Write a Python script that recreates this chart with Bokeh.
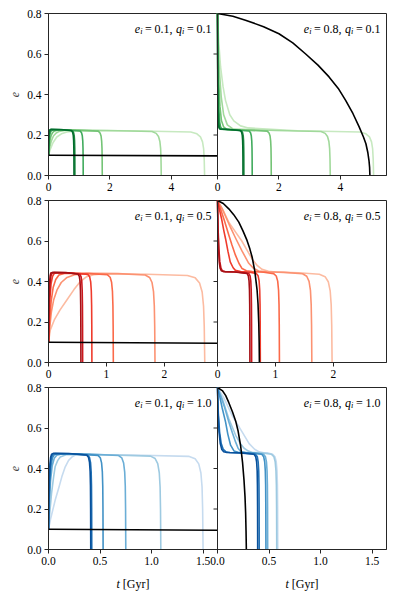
from bokeh.plotting import figure
from bokeh.models import Range1d, FixedTicker, Span, Label
from bokeh.layouts import column
from bokeh.embed import file_html
from bokeh.resources import INLINE

# ---------------- data ----------------
y_ticks = [0.0, 0.2, 0.4, 0.6, 0.8]
y_tick_labels = ["0.0", "0.2", "0.4", "0.6", "0.8"]

row_xmax = [5.5, 2.92, 1.64]
row_xticks = [[0, 2, 4], [0, 1, 2], [0.0, 0.5, 1.0, 1.5]]
row_xtick_labels = [["0", "2", "4"], ["0", "1", "2"], ["0.0", "0.5", "1.0", "1.5"]]

e_init = ["0.1", "0.8"]
q_init = ["0.1", "0.5", "1.0"]

greens = ["#006d2c", "#238b45", "#41ab5d", "#74c476", "#a1d99b", "#c7e9c0"]
reds = ["#a50f15", "#cb181d", "#ef3b2c", "#fb6a4a", "#fc9272", "#fcbba1"]
blues = ["#08519c", "#2171b5", "#4292c6", "#6baed6", "#9ecae1", "#c6dbef"]

# ---- row 1 (q_i = 0.1), left panel e_i = 0.1 (curves dark -> light)
p11_black_t = [0.0, 5.5]
p11_black_e = [0.1, 0.097]
p11_t = [
    [0, 0.004, 0.01, 0.018, 0.028, 0.04, 0.07, 0.4, 0.75, 0.786, 0.806, 0.818, 0.824, 0.8276, 0.83],
    [0, 0.006, 0.015, 0.027, 0.042, 0.06, 0.1, 0.42, 0.78, 0.816, 0.836, 0.848, 0.854, 0.8576, 0.86],
    [0, 0.01, 0.025, 0.045, 0.07, 0.1, 0.16, 0.55, 1.03, 1.075, 1.1, 1.115, 1.123, 1.127, 1.13],
    [0, 0.02, 0.05, 0.09, 0.14, 0.2, 0.32, 0.9, 1.62, 1.678, 1.711, 1.73, 1.741, 1.746, 1.75],
    [0, 0.035, 0.09, 0.16, 0.25, 0.35, 0.56, 1.9, 3.37, 3.505, 3.58, 3.625, 3.649, 3.661, 3.67],
    [0, 0.06, 0.15, 0.27, 0.42, 0.6, 0.96, 2.6, 4.63, 4.83, 4.945, 5.013, 5.049, 5.067, 5.08],
]
p11_e = [
    [0.1, 0.144, 0.181, 0.206, 0.219, 0.225, 0.228, 0.227, 0.222, 0.213, 0.198, 0.173, 0.138, 0.088, 0.0],
    [0.1, 0.143, 0.18, 0.205, 0.218, 0.224, 0.227, 0.226, 0.221, 0.212, 0.197, 0.172, 0.137, 0.087, 0.0],
    [0.1, 0.14, 0.178, 0.203, 0.216, 0.222, 0.226, 0.225, 0.22, 0.211, 0.196, 0.171, 0.136, 0.086, 0.0],
    [0.1, 0.138, 0.175, 0.2, 0.213, 0.22, 0.225, 0.224, 0.219, 0.21, 0.195, 0.17, 0.135, 0.085, 0.0],
    [0.1, 0.135, 0.17, 0.195, 0.21, 0.218, 0.224, 0.222, 0.217, 0.208, 0.193, 0.168, 0.133, 0.083, 0.0],
    [0.1, 0.13, 0.163, 0.19, 0.206, 0.215, 0.222, 0.221, 0.215, 0.206, 0.191, 0.166, 0.131, 0.081, 0.0],
]
# ---- row 1, right panel e_i = 0.8
p12_black_t = [0, 0.5, 0.91, 1.5, 2.0, 2.45, 2.87, 3.27, 3.63, 3.93, 4.17, 4.41, 4.61, 4.75, 4.83,
               4.89, 4.93, 4.95, 4.96]
p12_black_e = [0.8, 0.786, 0.767, 0.735, 0.70, 0.655, 0.60, 0.545, 0.487, 0.43, 0.371, 0.305, 0.24,
               0.19, 0.157, 0.115, 0.074, 0.04, 0.0]
p12_t = [
    [0, 0.004, 0.01, 0.018, 0.03, 0.045, 0.07, 0.4, 0.75, 0.786, 0.806, 0.818, 0.824, 0.8276, 0.83],
    [0, 0.006, 0.015, 0.027, 0.045, 0.065, 0.1, 0.42, 0.78, 0.816, 0.836, 0.848, 0.854, 0.8576, 0.86],
    [0, 0.01, 0.025, 0.045, 0.07, 0.1, 0.15, 0.55, 1.03, 1.075, 1.1, 1.115, 1.123, 1.127, 1.13],
    [0, 0.015, 0.04, 0.08, 0.13, 0.2, 0.3, 0.9, 1.62, 1.678, 1.711, 1.73, 1.741, 1.746, 1.75],
    [0, 0.02, 0.06, 0.12, 0.2, 0.32, 0.5, 1.9, 3.37, 3.505, 3.58, 3.625, 3.649, 3.661, 3.67],
    [0, 0.04, 0.1, 0.18, 0.26, 0.4, 0.53, 0.75, 1.0, 2.6, 4.63, 4.83, 4.945, 5.013, 5.049, 5.067, 5.08],
]
p12_e = [
    [0.8, 0.571, 0.411, 0.308, 0.257, 0.237, 0.23, 0.227, 0.222, 0.213, 0.198, 0.173, 0.138, 0.088, 0.0],
    [0.8, 0.575, 0.415, 0.31, 0.258, 0.237, 0.229, 0.226, 0.221, 0.212, 0.197, 0.172, 0.137, 0.087, 0.0],
    [0.8, 0.6, 0.44, 0.33, 0.265, 0.24, 0.229, 0.225, 0.22, 0.211, 0.196, 0.171, 0.136, 0.086, 0.0],
    [0.8, 0.63, 0.47, 0.34, 0.27, 0.24, 0.228, 0.224, 0.219, 0.21, 0.195, 0.17, 0.135, 0.085, 0.0],
    [0.8, 0.66, 0.52, 0.39, 0.3, 0.25, 0.23, 0.222, 0.217, 0.208, 0.193, 0.168, 0.133, 0.083, 0.0],
    [0.8, 0.66, 0.536, 0.44, 0.371, 0.3, 0.27, 0.245, 0.235, 0.221, 0.215, 0.206, 0.191, 0.166, 0.131, 0.081, 0.0],
]
# ---- row 2 (q_i = 0.5), left panel
p21_black_t = [0.0, 2.92]
p21_black_e = [0.1, 0.095]
p21_t = [
    [0, 0.004, 0.01, 0.018, 0.028, 0.04, 0.07, 0.3, 0.51, 0.5325, 0.545, 0.5525, 0.5565, 0.5585, 0.56],
    [0, 0.006, 0.015, 0.027, 0.042, 0.06, 0.1, 0.32, 0.54, 0.5625, 0.575, 0.5825, 0.5865, 0.5885, 0.59],
    [0, 0.01, 0.025, 0.045, 0.07, 0.1, 0.16, 0.42, 0.68, 0.7115, 0.729, 0.7395, 0.7451, 0.7479, 0.75],
    [0, 0.02, 0.045, 0.08, 0.125, 0.18, 0.29, 0.65, 1.02, 1.065, 1.09, 1.105, 1.113, 1.117, 1.12],
    [0, 0.02, 0.05, 0.09, 0.15, 0.22, 0.32, 0.45, 0.7, 1.2, 1.67, 1.7465, 1.789, 1.8145, 1.8281, 1.8349, 1.84],
    [0, 0.03, 0.1, 0.2, 0.32, 0.44, 0.55, 0.66, 0.78, 1.0, 1.7, 2.4, 2.535, 2.61, 2.655, 2.679, 2.691, 2.70],
]
p21_e = [
    [0.1, 0.221, 0.324, 0.393, 0.428, 0.442, 0.445, 0.444, 0.437, 0.425, 0.4, 0.355, 0.285, 0.185, 0.0],
    [0.1, 0.22, 0.323, 0.392, 0.427, 0.441, 0.444, 0.443, 0.436, 0.424, 0.399, 0.354, 0.284, 0.184, 0.0],
    [0.1, 0.22, 0.32, 0.39, 0.425, 0.44, 0.443, 0.442, 0.435, 0.423, 0.398, 0.353, 0.283, 0.183, 0.0],
    [0.1, 0.2, 0.3, 0.37, 0.41, 0.432, 0.441, 0.44, 0.433, 0.421, 0.396, 0.351, 0.281, 0.181, 0.0],
    [0.1, 0.17, 0.25, 0.31, 0.36, 0.395, 0.42, 0.433, 0.44, 0.439, 0.432, 0.42, 0.395, 0.35, 0.28, 0.18, 0.0],
    [0.1, 0.16, 0.21, 0.26, 0.31, 0.36, 0.40, 0.424, 0.434, 0.438, 0.436, 0.43, 0.418, 0.393, 0.348, 0.278, 0.178, 0.0],
]
# ---- row 2, right panel
p22_black_t = [0, 0.1, 0.195, 0.28, 0.368, 0.44, 0.51, 0.56, 0.598, 0.644, 0.684, 0.70, 0.713, 0.72, 0.724]
p22_black_e = [0.8, 0.785, 0.759, 0.73, 0.693, 0.65, 0.603, 0.56, 0.521, 0.452, 0.357, 0.29, 0.193, 0.1, 0.0]
p22_t = [
    [0, 0.008, 0.018, 0.03, 0.045, 0.065, 0.1, 0.3, 0.51, 0.5325, 0.545, 0.5525, 0.5565, 0.5585, 0.56],
    [0, 0.01, 0.024, 0.04, 0.06, 0.085, 0.13, 0.33, 0.54, 0.5625, 0.575, 0.5825, 0.5865, 0.5885, 0.59],
    [0, 0.03, 0.07, 0.11, 0.14, 0.18, 0.22, 0.27, 0.31, 0.4, 0.53, 0.67, 0.7015, 0.719, 0.7295, 0.7351, 0.7379, 0.74],
    [0, 0.05, 0.12, 0.195, 0.25, 0.31, 0.37, 0.425, 0.5, 0.6, 0.8, 0.97, 1.015, 1.04, 1.055, 1.063, 1.067, 1.07],
    [0, 0.08, 0.15, 0.22, 0.32, 0.425, 0.54, 0.62, 0.71, 0.85, 1.15, 1.47, 1.542, 1.582, 1.606, 1.6188, 1.6252, 1.63],
    [0, 0.1, 0.2, 0.31, 0.42, 0.51, 0.6, 0.69, 0.77, 0.88, 1.0, 1.4, 1.76, 1.859, 1.914, 1.947, 1.9646, 1.9734, 1.98],
]
p22_e = [
    [0.8, 0.659, 0.561, 0.497, 0.466, 0.453, 0.449, 0.447, 0.44, 0.428, 0.403, 0.358, 0.288, 0.188, 0.0],
    [0.8, 0.66, 0.562, 0.498, 0.466, 0.453, 0.449, 0.447, 0.44, 0.428, 0.403, 0.358, 0.288, 0.188, 0.0],
    [0.8, 0.76, 0.71, 0.65, 0.61, 0.55, 0.497, 0.468, 0.455, 0.449, 0.447, 0.44, 0.428, 0.403, 0.358, 0.288, 0.188, 0.0],
    [0.8, 0.76, 0.7, 0.63, 0.58, 0.53, 0.49, 0.464, 0.453, 0.449, 0.446, 0.439, 0.427, 0.402, 0.357, 0.287, 0.187, 0.0],
    [0.8, 0.76, 0.715, 0.67, 0.61, 0.55, 0.49, 0.466, 0.452, 0.448, 0.445, 0.438, 0.426, 0.401, 0.356, 0.286, 0.186, 0.0],
    [0.8, 0.75, 0.69, 0.645, 0.6, 0.555, 0.51, 0.478, 0.46, 0.451, 0.447, 0.443, 0.436, 0.424, 0.399, 0.354, 0.284, 0.184, 0.0],
]
# ---- row 3 (q_i = 1.0), left panel
p31_black_t = [0.0, 1.64]
p31_black_e = [0.1, 0.095]
p31_t = [
    [0, 0.003, 0.0075, 0.0135, 0.021, 0.03, 0.05, 0.2, 0.37, 0.388, 0.398, 0.404, 0.4072, 0.4088, 0.41],
    [0, 0.004, 0.01, 0.018, 0.028, 0.04, 0.065, 0.22, 0.38, 0.398, 0.408, 0.414, 0.4172, 0.4188, 0.42],
    [0, 0.0055, 0.014, 0.025, 0.038, 0.055, 0.09, 0.28, 0.48, 0.5025, 0.515, 0.5225, 0.5265, 0.5285, 0.53],
    [0, 0.008, 0.02, 0.036, 0.056, 0.08, 0.13, 0.4, 0.68, 0.7115, 0.729, 0.7395, 0.7451, 0.7479, 0.75],
    [0, 0.012, 0.03, 0.05, 0.065, 0.09, 0.114, 0.17, 0.55, 0.99, 1.035, 1.06, 1.075, 1.083, 1.087, 1.09],
    [0, 0.02, 0.065, 0.1, 0.13, 0.16, 0.195, 0.23, 0.26, 0.35, 0.8, 1.36, 1.423, 1.458, 1.479, 1.4902, 1.4958, 1.5],
]
p31_e = [
    [0.1, 0.231, 0.344, 0.419, 0.456, 0.471, 0.475, 0.474, 0.467, 0.455, 0.43, 0.385, 0.315, 0.205, 0.0],
    [0.1, 0.23, 0.343, 0.418, 0.455, 0.47, 0.474, 0.473, 0.466, 0.454, 0.429, 0.384, 0.314, 0.204, 0.0],
    [0.1, 0.23, 0.342, 0.416, 0.453, 0.468, 0.473, 0.472, 0.465, 0.453, 0.428, 0.383, 0.313, 0.203, 0.0],
    [0.1, 0.228, 0.34, 0.414, 0.451, 0.466, 0.472, 0.471, 0.464, 0.452, 0.427, 0.382, 0.312, 0.202, 0.0],
    [0.1, 0.18, 0.28, 0.36, 0.41, 0.44, 0.457, 0.468, 0.468, 0.461, 0.449, 0.424, 0.379, 0.309, 0.199, 0.0],
    [0.1, 0.15, 0.244, 0.305, 0.36, 0.405, 0.44, 0.458, 0.466, 0.469, 0.467, 0.46, 0.448, 0.423, 0.378, 0.308, 0.198, 0.0],
]
# ---- row 3, right panel
p32_black_t = [0, 0.05, 0.08, 0.11, 0.145, 0.176, 0.2, 0.225, 0.243, 0.257, 0.267, 0.273, 0.277, 0.28]
p32_black_e = [0.8, 0.783, 0.76, 0.725, 0.68, 0.635, 0.585, 0.51, 0.43, 0.344, 0.26, 0.18, 0.09, 0.0]
p32_t = [
    [0, 0.006, 0.015, 0.027, 0.042, 0.06, 0.09, 0.22, 0.355, 0.371, 0.3795, 0.385, 0.3875, 0.389, 0.39],
    [0, 0.008, 0.02, 0.036, 0.056, 0.08, 0.12, 0.25, 0.37, 0.386, 0.3945, 0.4, 0.4025, 0.404, 0.405],
    [0, 0.02, 0.045, 0.078, 0.1, 0.127, 0.16, 0.2, 0.32, 0.43, 0.448, 0.458, 0.464, 0.4672, 0.4688, 0.47],
    [0, 0.03, 0.07, 0.11, 0.145, 0.176, 0.2, 0.225, 0.27, 0.36, 0.447, 0.465, 0.475, 0.481, 0.4842, 0.4858, 0.487],
    [0, 0.05, 0.11, 0.176, 0.22, 0.258, 0.3, 0.34, 0.43, 0.525, 0.5475, 0.56, 0.5675, 0.5715, 0.5735, 0.575],
    [0, 0.06, 0.144, 0.24, 0.307, 0.36, 0.405, 0.45, 0.49, 0.535, 0.5575, 0.57, 0.5775, 0.5815, 0.5835, 0.585],
]
p32_e = [
    [0.8, 0.671, 0.581, 0.523, 0.494, 0.483, 0.479, 0.477, 0.47, 0.458, 0.433, 0.388, 0.318, 0.208, 0.0],
    [0.8, 0.671, 0.581, 0.523, 0.494, 0.483, 0.479, 0.477, 0.47, 0.458, 0.433, 0.388, 0.318, 0.208, 0.0],
    [0.8, 0.76, 0.7, 0.63, 0.57, 0.515, 0.487, 0.48, 0.477, 0.47, 0.458, 0.433, 0.388, 0.318, 0.208, 0.0],
    [0.8, 0.76, 0.7, 0.63, 0.575, 0.53, 0.5, 0.484, 0.479, 0.477, 0.47, 0.458, 0.433, 0.388, 0.318, 0.208, 0.0],
    [0.8, 0.74, 0.646, 0.564, 0.525, 0.5, 0.486, 0.479, 0.477, 0.47, 0.458, 0.433, 0.388, 0.318, 0.208, 0.0],
    [0.8, 0.75, 0.66, 0.58, 0.523, 0.495, 0.482, 0.478, 0.477, 0.47, 0.458, 0.433, 0.388, 0.318, 0.208, 0.0],
]

rows = [
    (greens, (p11_t, p11_e, p11_black_t, p11_black_e), (p12_t, p12_e, p12_black_t, p12_black_e)),
    (reds, (p21_t, p21_e, p21_black_t, p21_black_e), (p22_t, p22_e, p22_black_t, p22_black_e)),
    (blues, (p31_t, p31_e, p31_black_t, p31_black_e), (p32_t, p32_e, p32_black_t, p32_black_e)),
]

# ---------------- style / layout ----------------
FRAME_W, FRAME_H = 338, 162
SERIF = "Liberation Serif"
TICK_FS = "11.5px"
EDGE = "#262626"
LW = 1.6
YMAX = 0.8
LEFT_B, RIGHT_B = 48, 6

TIMES_W = {"0": 0.5, "1": 0.5, "5": 0.5, "8": 0.5, ".": 0.25, ",": 0.25,
           "=": 0.564, "e": 0.444, "q": 0.5, "i": 0.278, "t": 0.278}


def text_w(s, size):
    return sum(TIMES_W.get(ch, 0.5) for ch in s) * size


def px_to_y(px_below_top):
    return YMAX - px_below_top * YMAX / FRAME_H


def annotate(p, x_anchor, e_txt, q_txt):
    F = 12.0
    S = 8.4
    items = [("e", "italic", F, 0.0, 0.0),
             ("i", "italic", S, 3.0, 0.22 * F),
             ("=", "normal", F, 0.0, 0.22 * F),
             (e_txt + ",", "normal", F, 0.0, 0.3 * F),
             ("q", "italic", F, 0.0, 0.0),
             ("i", "italic", S, 3.0, 0.22 * F),
             ("=", "normal", F, 0.0, 0.22 * F),
             (q_txt, "normal", F, 0.0, 0.0)]
    total = sum(text_w(t, s) + g for t, _, s, _, g in items)
    x = -6.0 - total
    for t, st, s, dy, g in items:
        p.add_layout(Label(x=x_anchor, y=px_to_y(15 + dy), x_offset=x, text=t,
                           text_font=SERIF, text_font_style=st,
                           text_font_size=f"{s}px", text_align="left",
                           text_baseline="alphabetic", text_color="black"))
        x += text_w(t, s) + g


figs = []
for r, (cols, left, right) in enumerate(rows):
    L = row_xmax[r]
    p = figure(frame_width=FRAME_W, frame_height=FRAME_H,
               min_border_left=LEFT_B, min_border_right=RIGHT_B,
               min_border_top=13 if r == 0 else 5,
               min_border_bottom=22 if r == 2 else 20,
               x_range=Range1d(0, 2 * L), y_range=Range1d(0, YMAX),
               output_backend="svg", toolbar_location=None)
    p.extra_x_ranges = {"right": Range1d(-L, L)}
    p.grid.visible = False
    p.outline_line_color = EDGE
    p.outline_line_width = 1
    p.background_fill_color = "white"
    p.border_fill_color = "white"

    xt = [float(t) for t in row_xticks[r]] + [L + t for t in row_xticks[r]]
    xl = row_xtick_labels[r] + row_xtick_labels[r]
    xa = p.xaxis[0]
    xa.ticker = FixedTicker(ticks=xt)
    xa.major_label_overrides = {t: s for t, s in zip(xt, xl)}
    ya = p.yaxis[0]
    ya.ticker = FixedTicker(ticks=y_ticks)
    ya.major_label_overrides = {t: s for t, s in zip(y_ticks, y_tick_labels)}
    ya.axis_label = "e"
    ya.axis_label_text_font = SERIF
    ya.axis_label_text_font_style = "italic"
    ya.axis_label_text_font_size = "12px"
    ya.axis_label_standoff = 5
    for ax in (xa, ya):
        ax.major_tick_out = 4
        ax.major_tick_in = 0
        ax.minor_tick_out = 0
        ax.minor_tick_in = 0
        ax.major_label_standoff = 3
        ax.axis_line_color = EDGE
        ax.major_tick_line_color = EDGE
        ax.major_label_text_font = SERIF
        ax.major_label_text_font_size = TICK_FS
        ax.major_label_text_color = "black"

    # divider between the two panels and the right panel's y ticks
    p.add_layout(Span(location=L, dimension="height", line_color=EDGE, line_width=1))
    tick_len = 4 * (2 * L) / FRAME_W
    p.segment(x0=[L] * len(y_ticks), y0=y_ticks, x1=[L - tick_len] * len(y_ticks),
              y1=y_ticks, line_color=EDGE, line_width=1)

    # curves: light first, dark on top, black last
    for (ts, es, bt, be), rng in ((left, "default"), (right, "right")):
        for i in reversed(range(len(ts))):
            p.line(ts[i], es[i], line_color=cols[i], line_width=LW,
                   line_join="round", x_range_name=rng)
        p.line(bt, be, line_color="black", line_width=LW, line_join="round",
               x_range_name=rng)

    annotate(p, L, e_init[0], q_init[r])
    annotate(p, 2 * L, e_init[1], q_init[r])
    figs.append(p)

# x-axis titles under the bottom row
L3 = row_xmax[2]
xlab = figure(frame_width=FRAME_W, frame_height=22, min_border_left=LEFT_B,
              min_border_right=RIGHT_B, min_border_top=0, min_border_bottom=0,
              x_range=Range1d(0, 2 * L3), y_range=Range1d(0, 22),
              x_axis_location=None, y_axis_location=None,
              output_backend="svg", toolbar_location=None)
xlab.grid.visible = False
xlab.outline_line_color = None
xlab.background_fill_color = "white"
xlab.border_fill_color = "white"
for xc in (0.5 * L3, 1.5 * L3):
    xlab.add_layout(Label(x=xc, y=10, x_offset=-16.5, text="t", text_font=SERIF,
                          text_font_style="italic", text_font_size="12px",
                          text_align="left", text_baseline="alphabetic",
                          text_color="black"))
    xlab.add_layout(Label(x=xc, y=10, x_offset=-10.2, text="[Gyr]", text_font=SERIF,
                          text_font_size="12px", text_align="left",
                          text_baseline="alphabetic", text_color="black"))
figs.append(xlab)

layout = column(*figs, spacing=0)
open("out.html", "w").write(file_html(layout, INLINE))
